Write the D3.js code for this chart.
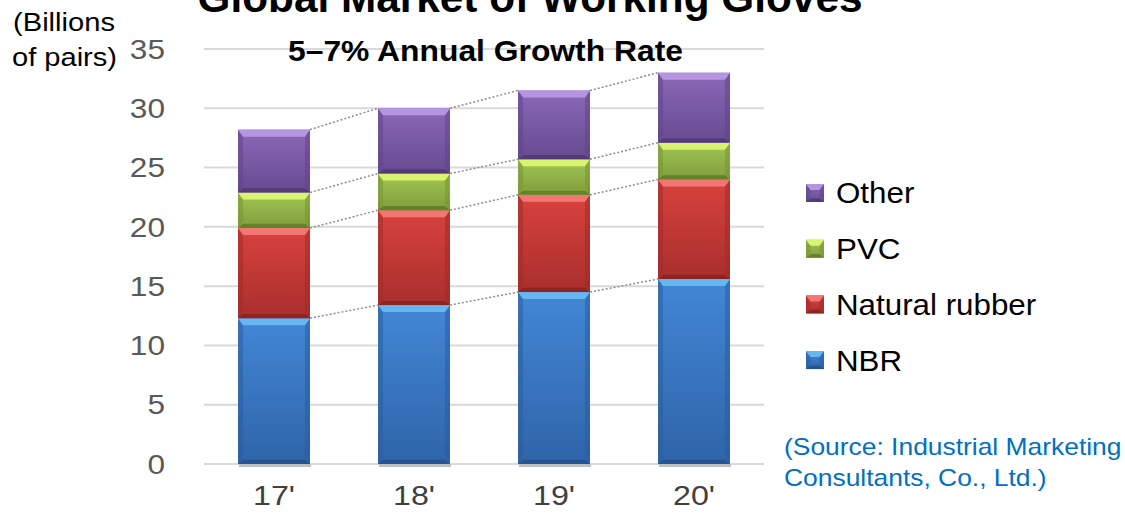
<!DOCTYPE html>
<html>
<head>
<meta charset="utf-8">
<script src="https://cdn.jsdelivr.net/npm/d3@7"></script>
<style>
  body { margin: 0; background: #fff; }
  svg { display: block; font-family: "Liberation Sans", Arial, sans-serif; }
</style>
</head>
<body>
<svg id="chart" width="1125" height="516"></svg>
<script>
// data
var years = ["17'", "18'", "19'", "20'"];
var seriesKeys = ["NBR", "Natural rubber", "PVC", "Other"];
var nbr = [12.3, 13.4, 14.5, 15.6];
var naturalRubber = [7.6, 8.0, 8.2, 8.4];
var pvc = [3.0, 3.1, 3.0, 3.1];
var other = [5.3, 5.5, 5.8, 5.9];
var yTicks = [0, 5, 10, 15, 20, 25, 30, 35];
var legendOrder = ["Other", "PVC", "Natural rubber", "NBR"];

var svg = d3.select("#chart");

// build table for d3.stack
var table = years.map(function(yr, i) {
    return { year: yr, "NBR": nbr[i], "Natural rubber": naturalRubber[i], "PVC": pvc[i], "Other": other[i] };
});

// the source picture is a bit wider than tall, so text gets stretched
function stretch(sel, f) {
    sel.each(function() {
        var t = d3.select(this);
        t.attr("textLength", this.getComputedTextLength() * f)
         .attr("lengthAdjust", "spacingAndGlyphs");
    });
}

var x = d3.scaleBand()
    .domain(years)
    .range([204, 764])
    .paddingInner(0.486)
    .paddingOuter(0.243);

var y = d3.scaleLinear()
    .domain([0, 35])
    .range([464, 49]);

var palette = {
    "NBR":            { top: "#4287d6", bot: "#2f64a8", light: "#66b6f2", dark: "#22508c", side: "#2c5d9e" },
    "Natural rubber": { top: "#d8423e", bot: "#a92f2c", light: "#f27672", dark: "#86221f", side: "#9e2c29" },
    "PVC":            { top: "#a2c655", bot: "#7e9e3a", light: "#d9f46e", dark: "#5e7a26", side: "#789434" },
    "Other":          { top: "#8a69b8", bot: "#674a90", light: "#b595e2", dark: "#4e3672", side: "#61458a" }
};

var defs = svg.append("defs");
seriesKeys.forEach(function(k, i) {
    var gr = defs.append("linearGradient")
        .attr("id", "grad" + i)
        .attr("x1", 0).attr("y1", 0).attr("x2", 0).attr("y2", 1);
    gr.append("stop").attr("offset", "0%").attr("stop-color", palette[k].top);
    gr.append("stop").attr("offset", "100%").attr("stop-color", palette[k].bot);
});

// gridlines
svg.append("g").selectAll("line").data(yTicks).enter()
    .append("line")
    .attr("x1", x.range()[0])
    .attr("x2", x.range()[1])
    .attr("y1", function(d) { return y(d); })
    .attr("y2", function(d) { return y(d); })
    .style("stroke", "#d9d9d9")
    .style("stroke-width", 2);

// y tick labels
var yLab = svg.append("g").selectAll("text").data(yTicks).enter()
    .append("text")
    .attr("x", 165)
    .attr("y", function(d) { return y(d); })
    .attr("dy", "0.36em")
    .attr("text-anchor", "end")
    .style("font-size", "27px")
    .style("fill", "#595959")
    .text(function(d) { return d; });
stretch(yLab, 1.17);

// x labels
var xLab = svg.append("g").selectAll("text").data(years).enter()
    .append("text")
    .attr("x", function(d) { return x(d) + x.bandwidth() / 2; })
    .attr("y", 495)
    .attr("dy", "0.36em")
    .attr("text-anchor", "middle")
    .style("font-size", "28px")
    .style("fill", "#404040")
    .text(function(d) { return d; });
stretch(xLab, 1.15);

var stacked = d3.stack().keys(seriesKeys)(table);

// dotted series lines
var seriesLines = [];
stacked.forEach(function(s) {
    for (var i = 0; i < s.length - 1; i++) {
        seriesLines.push({
            x1: x(s[i].data.year) + x.bandwidth(),
            y1: y(s[i][1]),
            x2: x(s[i + 1].data.year),
            y2: y(s[i + 1][1])
        });
    }
});
svg.append("g").selectAll("line").data(seriesLines).enter()
    .append("line")
    .attr("x1", function(d) { return d.x1; })
    .attr("y1", function(d) { return d.y1; })
    .attr("x2", function(d) { return d.x2; })
    .attr("y2", function(d) { return d.y2; })
    .style("stroke", "#8c8c8c")
    .style("stroke-width", 1.5)
    .style("stroke-dasharray", "2,2");

// bevelled block
function bevelBlock(g, x0, y0, w, h, k, idx) {
    var c = palette[k];
    var b = Math.min(7, h / 3);
    var sb = Math.min(5, w / 4);
    g.append("rect")
        .attr("x", x0).attr("y", y0).attr("width", w).attr("height", h)
        .attr("fill", "url(#grad" + idx + ")");
    g.append("polygon")
        .attr("points", [[x0, y0], [x0 + sb, y0 + b], [x0 + sb, y0 + h - b], [x0, y0 + h]].join(" "))
        .attr("fill", c.side).attr("opacity", 0.55);
    g.append("polygon")
        .attr("points", [[x0 + w, y0], [x0 + w - sb, y0 + b], [x0 + w - sb, y0 + h - b], [x0 + w, y0 + h]].join(" "))
        .attr("fill", c.side).attr("opacity", 0.55);
    g.append("polygon")
        .attr("points", [[x0, y0], [x0 + w, y0], [x0 + w - sb, y0 + b], [x0 + sb, y0 + b]].join(" "))
        .attr("fill", c.light);
    g.append("polygon")
        .attr("points", [[x0, y0 + h], [x0 + w, y0 + h], [x0 + w - sb, y0 + h - b * 0.6], [x0 + sb, y0 + h - b * 0.6]].join(" "))
        .attr("fill", c.dark).attr("opacity", 0.8);
}

var barG = svg.append("g");
barG.selectAll("rect.shadow").data(years).enter()
    .append("rect")
    .attr("class", "shadow")
    .attr("x", function(d) { return x(d) + 1; })
    .attr("y", y(0))
    .attr("width", x.bandwidth())
    .attr("height", 3)
    .attr("fill", "#bfbfbf");

stacked.forEach(function(s, idx) {
    s.forEach(function(d) {
        var x0 = x(d.data.year);
        var y0 = y(d[1]);
        var h = y(d[0]) - y(d[1]);
        bevelBlock(barG, x0, y0, x.bandwidth(), h, s.key, idx);
    });
});

// legend
var legend = svg.append("g");
legendOrder.forEach(function(k, i) {
    var cy = 193 + i * 55.7;
    bevelBlock(legend, 806, cy - 9, 18, 18, k, seriesKeys.indexOf(k));
    var t = legend.append("text")
        .attr("x", 836)
        .attr("y", cy)
        .attr("dy", "0.36em")
        .style("font-size", "29px")
        .style("fill", "#000")
        .text(k);
    stretch(t, 1.08);
});

// titles
var title = svg.append("text")
    .attr("x", 530)
    .attr("y", 12)
    .attr("text-anchor", "middle")
    .style("font-size", "42px")
    .style("font-weight", "bold")
    .style("fill", "#000")
    .text("Global Market of Working Gloves");
title.attr("textLength", 665).attr("lengthAdjust", "spacingAndGlyphs");

var sub = svg.append("text")
    .attr("x", 485.5)
    .attr("y", 61)
    .attr("text-anchor", "middle")
    .style("font-size", "30px")
    .style("font-weight", "bold")
    .style("fill", "#000")
    .text("5–7% Annual Growth Rate");
sub.attr("textLength", 395).attr("lengthAdjust", "spacingAndGlyphs");

// y unit label
var unit = svg.append("g").style("font-size", "25px");
var u1 = unit.append("text").attr("x", 13).attr("y", 31).text("(Billions");
var u2 = unit.append("text").attr("x", 12).attr("y", 66).text("of pairs)");
u1.attr("textLength", 102).attr("lengthAdjust", "spacingAndGlyphs");
u2.attr("textLength", 105).attr("lengthAdjust", "spacingAndGlyphs");

// source note
var src = svg.append("g")
    .style("font-size", "24px")
    .style("fill", "#0070c0");
var s1 = src.append("text").attr("x", 784).attr("y", 446).attr("dy", "0.36em").text("(Source: Industrial Marketing");
var s2 = src.append("text").attr("x", 784).attr("y", 477).attr("dy", "0.36em").text("Consultants, Co., Ltd.)");
stretch(s1, 1.1);
stretch(s2, 1.1);
</script>
</body>
</html>
